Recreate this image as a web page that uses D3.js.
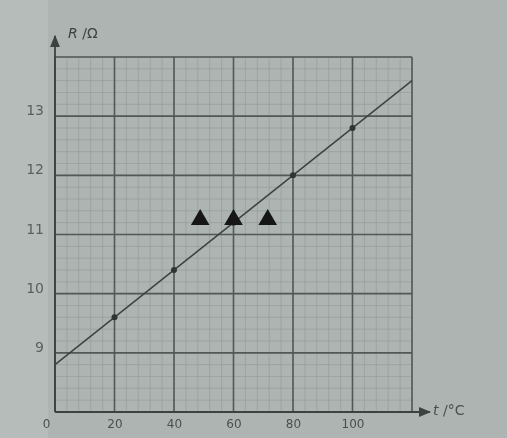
<!DOCTYPE html>
<html>
<head>
<meta charset="utf-8">
<script src="https://cdn.jsdelivr.net/npm/d3@7"></script>
<style>
  body { margin: 0; background: #aeb5b2; }
  svg { display: block; }
</style>
</head>
<body>
<div id="chart"></div>
<script>
// values
var tTicks = [0, 20, 40, 60, 80, 100];
var rTicks = [9, 10, 11, 12, 13];
var measT = [20, 40, 60, 80, 100];
var measR = [9.6, 10.4, 11.2, 12.0, 12.8];
var fitT = [0, 120];
var fitR = [8.8, 13.6];
var markT = [48.8, 60, 71.5];   // the three black triangles
var markR = [11.25, 11.25, 11.25];

var width = 507, height = 438;

var svg = d3.select("#chart").append("svg")
    .attr("width", width)
    .attr("height", height);

// soft blur, it is a photograph
var defs = svg.append("defs");
defs.append("filter").attr("id", "soft")
    .append("feGaussianBlur").attr("stdDeviation", 0.7);
defs.append("marker").attr("id", "arr")
    .attr("viewBox", "0 0 10 10").attr("refX", 9).attr("refY", 5)
    .attr("markerWidth", 7).attr("markerHeight", 7).attr("orient", "auto")
    .append("path").attr("d", "M0,1 L10,5 L0,9 Z").attr("fill", "#3c4240");

svg.append("rect").attr("width", width).attr("height", height).attr("fill", "#adb4b1");
svg.append("rect").attr("width", 48).attr("height", height).attr("fill", "#b6bcba");

var g = svg.append("g").attr("filter", "url(#soft)");

var x = d3.scaleLinear().domain([0, 120]).range([55, 412]);
var y = d3.scaleLinear().domain([8, 14]).range([412, 57]);

// minor grid
var minorT = d3.range(0, 120.01, 4), minorR = d3.range(8, 14.01, 0.2);
g.append("g").selectAll("line").data(minorT).enter().append("line")
    .attr("x1", d => x(d)).attr("x2", d => x(d))
    .attr("y1", y(8)).attr("y2", y(14))
    .attr("stroke", "#959d9a").attr("stroke-width", 0.7);
g.append("g").selectAll("line").data(minorR).enter().append("line")
    .attr("y1", d => y(d)).attr("y2", d => y(d))
    .attr("x1", x(0)).attr("x2", x(120))
    .attr("stroke", "#959d9a").attr("stroke-width", 0.7);

// major grid
g.append("g").selectAll("line").data(d3.range(0, 120.01, 20)).enter().append("line")
    .attr("x1", d => x(d)).attr("x2", d => x(d))
    .attr("y1", y(8)).attr("y2", y(14))
    .attr("stroke", "#525957").attr("stroke-width", 1.6);
g.append("g").selectAll("line").data(d3.range(8, 14.01, 1)).enter().append("line")
    .attr("y1", d => y(d)).attr("y2", d => y(d))
    .attr("x1", x(0)).attr("x2", x(120))
    .attr("stroke", "#525957").attr("stroke-width", 1.6);

// axes with arrows
g.append("line").attr("x1", x(0)).attr("x2", x(0)).attr("y1", y(8)).attr("y2", 36)
    .attr("stroke", "#3c4240").attr("stroke-width", 1.8).attr("marker-end", "url(#arr)");
g.append("line").attr("x1", x(0)).attr("x2", 430).attr("y1", y(8)).attr("y2", y(8))
    .attr("stroke", "#3c4240").attr("stroke-width", 1.8).attr("marker-end", "url(#arr)");

// tick labels
var xAx = g.append("g").attr("transform", "translate(0," + (y(8) + 2) + ")")
    .call(d3.axisBottom(x).tickValues(tTicks).tickSize(0).tickPadding(5));
xAx.select(".domain").remove();
xAx.selectAll("text").attr("fill", "#4a504e")
    .attr("font-family", "DejaVu Sans").attr("font-size", 12)
    .attr("dx", d => d === 0 ? -9 : 0);

var yAx = g.append("g").attr("transform", "translate(44,0)")
    .call(d3.axisLeft(y).tickValues(rTicks).tickFormat(d3.format("d")).tickSize(0).tickPadding(0));
yAx.select(".domain").remove();
yAx.selectAll("text").attr("fill", "#5a605e")
    .attr("font-family", "DejaVu Sans").attr("font-size", 14).attr("dy", "-0.1em");

g.append("text").attr("x", 68).attr("y", 38).attr("fill", "#3c4240")
    .attr("font-family", "DejaVu Sans").attr("font-size", 14)
    .html('<tspan font-style="italic">R</tspan> /Ω');
g.append("text").attr("x", 433).attr("y", 415).attr("fill", "#4a504e")
    .attr("font-family", "DejaVu Sans").attr("font-size", 14)
    .html('<tspan font-style="italic">t</tspan> /°C');

// fitted line
var line = d3.line().x(d => x(d[0])).y(d => y(d[1]));
g.append("path").datum(d3.zip(fitT, fitR)).attr("d", line)
    .attr("fill", "none").attr("stroke", "#3c4240").attr("stroke-width", 1.5);

// measured points
g.append("g").selectAll("circle").data(d3.zip(measT, measR)).enter().append("circle")
    .attr("cx", d => x(d[0])).attr("cy", d => y(d[1])).attr("r", 3)
    .attr("fill", "#2e3432");

// triangles
var tri = d3.symbol().type(d3.symbolTriangle).size(150);
g.append("g").selectAll("path").data(d3.zip(markT, markR)).enter().append("path")
    .attr("d", tri)
    .attr("transform", d => "translate(" + x(d[0]) + "," + y(d[1]) + ")")
    .attr("fill", "#141716");
</script>
</body>
</html>
